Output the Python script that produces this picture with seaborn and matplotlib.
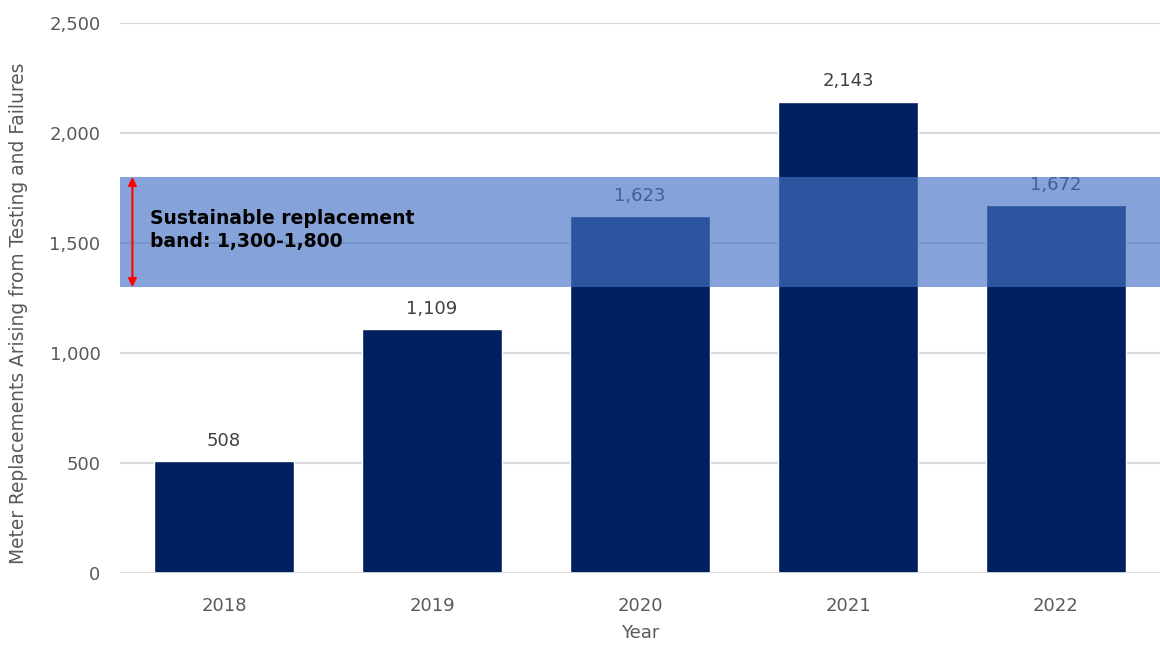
import matplotlib
matplotlib.use("Agg")
import matplotlib.pyplot as plt
import seaborn as sns
import pandas as pd

# Meter replacements per year
years = ["2018", "2019", "2020", "2021", "2022"]
replacements = [508, 1109, 1623, 2143, 1672]

# Sustainable replacement band
band_low = 1300
band_high = 1800
band_text = "Sustainable replacement\nband: 1,300-1,800"

y_ticks = [0, 500, 1000, 1500, 2000, 2500]

df = pd.DataFrame({"Year": years, "Replacements": replacements})

sns.set_theme(style="white")
plt.rcParams["font.family"] = ["DejaVu Sans"]

fig = plt.figure(figsize=(11.6, 6.45), dpi=100)
ax = fig.add_axes([0.1034, 0.1116, 0.8966, 0.8527])

sns.barplot(data=df, x="Year", y="Replacements", color="#002060",
            saturation=1, width=0.67, ax=ax, zorder=2)

ax.set_xlim(-0.5, 4.5)
ax.set_ylim(0, 2500)
ax.set_yticks(y_ticks)
ax.set_yticklabels([f"{v:,}" for v in y_ticks])

# gridlines
for v in y_ticks[1:]:
    ax.axhline(v, color="#D9D9D9", lw=1.6, zorder=0)
ax.axhline(0, color="#D9D9D9", lw=2, zorder=5)

for s in ax.spines.values():
    s.set_visible(False)

# value labels (sit beneath the translucent band)
for i, v in enumerate(replacements):
    ax.annotate(f"{v:,}", xy=(i, v), xytext=(0, 8), textcoords="offset points",
                ha="center", va="bottom", fontsize=13, color="#404040", zorder=2.5)

# sustainable band
ax.axhspan(band_low, band_high, xmin=0, xmax=1, color="#4472C4", alpha=0.65,
           lw=0, zorder=3)
ax.annotate("", xy=(-0.44, band_high), xytext=(-0.44, band_low),
            arrowprops=dict(arrowstyle="<|-|>", color="#FF0000", lw=1.5,
                            mutation_scale=12, shrinkA=0, shrinkB=0),
            zorder=4)
ax.text(-0.355, 1560, band_text, fontsize=13.5, fontweight="bold",
        color="black", ha="left", va="center", linespacing=1.25, zorder=4)

ax.tick_params(axis="y", labelsize=13, labelcolor="#595959", length=0, pad=14)
ax.tick_params(axis="x", labelsize=13, labelcolor="#595959", length=0, pad=17)

ax.set_xlabel("Year", fontsize=13, color="#595959", labelpad=7)
ax.set_ylabel("Meter Replacements Arising from Testing and Failures",
              fontsize=13.4, color="#595959")
ax.yaxis.set_label_coords(-0.088, 0.473)

fig.savefig("out.png", dpi=100)
